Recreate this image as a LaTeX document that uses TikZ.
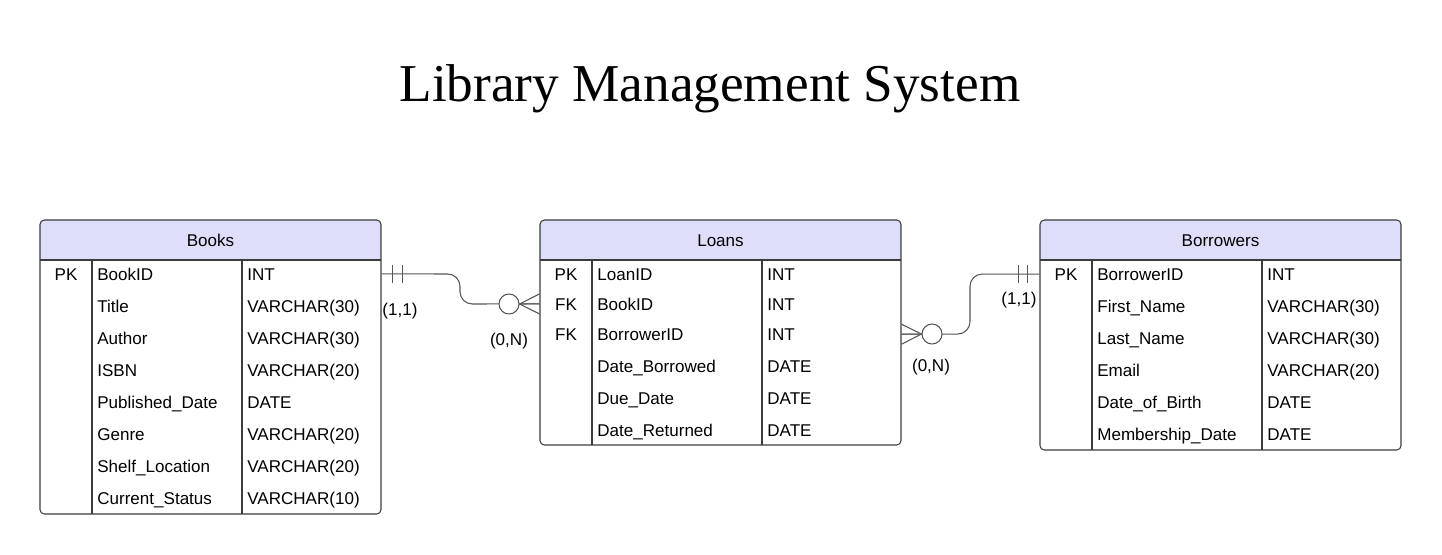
\documentclass[tikz,border=0pt]{standalone}
\usepackage{fontspec}
\setmainfont{Liberation Sans}
\newfontfamily\titlefont{Liberation Serif}
\usetikzlibrary{fit,calc}
\definecolor{headfill}{RGB}{222,222,250}
\definecolor{framegray}{RGB}{60,60,60}
\definecolor{linkgray}{RGB}{85,85,85}
\tikzset{
  tablebox/.style={draw=framegray, line width=0.6pt, rounded corners=2.5pt, inner sep=0pt},
  cell/.style={inner sep=0pt, font=\fontsize{9.7}{11}\selectfont},
  link/.style={draw=linkgray, line width=0.6pt},
  endcirc/.style={circle, draw=linkgray, fill=white, line width=0.6pt, minimum size=0.4cm, inner sep=0pt},
}
\begin{document}
\begin{tikzpicture}[x=0.02cm,y=-0.02cm]
\useasboundingbox (0,0) rectangle (1442,554);
\node[font=\titlefont\fontsize{30.3}{36}\selectfont, anchor=base] (title) at (710,101) {Library Management System};

% books
\begin{scope}
  \clip[rounded corners=2.5pt] (40,220) rectangle (381,514);
  \fill[headfill] (40,220) rectangle (381,260);
\end{scope}
\node[tablebox, fit={(40,220) (381,514)}] (books) {};
\draw[framegray, line width=0.6pt] (40,260) -- (381,260) (92,260) -- (92,514) (242,260) -- (242,514);
\node[cell, anchor=base] (books-head) at (210.5,246) {Books};
\foreach \k/\n/\t [count=\i] in {PK/BookID/INT, /Title/VARCHAR(30), /Author/VARCHAR(30),
  /ISBN/VARCHAR(20), /Published\_Date/DATE, /Genre/VARCHAR(20),
  /Shelf\_Location/VARCHAR(20), /Current\_Status/VARCHAR(10)}
{
  \pgfmathsetmacro\y{280+32*(\i-1)}
  \node[cell, anchor=base] (books-k\i) at (66,\y) {\k};
  \node[cell, anchor=base west] (books-n\i) at (97,\y) {\n};
  \node[cell, anchor=base west] (books-t\i) at (247,\y) {\t};
}

% loans
\begin{scope}
  \clip[rounded corners=2.5pt] (540,220) rectangle (901,445);
  \fill[headfill] (540,220) rectangle (901,260);
\end{scope}
\node[tablebox, fit={(540,220) (901,445)}] (loans) {};
\draw[framegray, line width=0.6pt] (540,260) -- (901,260) (592,260) -- (592,445) (762,260) -- (762,445);
\node[cell, anchor=base] (loans-head) at (720.5,246) {Loans};
\foreach \y/\k/\n/\t [count=\i] in {280/PK/LoanID/INT, 310/FK/BookID/INT, 340/FK/BorrowerID/INT,
  372//Date\_Borrowed/DATE, 404//Due\_Date/DATE, 436//Date\_Returned/DATE}
{
  \node[cell, anchor=base] (loans-k\i) at (566,\y) {\k};
  \node[cell, anchor=base west] (loans-n\i) at (597,\y) {\n};
  \node[cell, anchor=base west] (loans-t\i) at (767,\y) {\t};
}

% borrowers
\begin{scope}
  \clip[rounded corners=2.5pt] (1040,220) rectangle (1401,450);
  \fill[headfill] (1040,220) rectangle (1401,260);
\end{scope}
\node[tablebox, fit={(1040,220) (1401,450)}] (borrowers) {};
\draw[framegray, line width=0.6pt] (1040,260) -- (1401,260) (1092,260) -- (1092,450) (1262,260) -- (1262,450);
\node[cell, anchor=base] (borrowers-head) at (1220.5,246) {Borrowers};
\foreach \k/\n/\t [count=\i] in {PK/BorrowerID/INT, /First\_Name/VARCHAR(30), /Last\_Name/VARCHAR(30),
  /Email/VARCHAR(20), /Date\_of\_Birth/DATE, /Membership\_Date/DATE}
{
  \pgfmathsetmacro\y{280+32*(\i-1)}
  \node[cell, anchor=base] (borrowers-k\i) at (1066,\y) {\k};
  \node[cell, anchor=base west] (borrowers-n\i) at (1097,\y) {\n};
  \node[cell, anchor=base west] (borrowers-t\i) at (1267,\y) {\t};
}

% books -- loans
\draw[link, rounded corners=7pt] (books.east |- books-n1) -- (460,274) -- (460,304) -- (loans.west |- loans-n2);
\draw[link] (books.east |- books-n1) ++(11,-9) -- ++(0,18) ++(10,0) -- ++(0,-18);
\node[endcirc] (books-loans-o) at (509,304) {};
\draw[link] ($(loans.west |- loans-n2)+(0,-10)$) -- (books-loans-o.east) -- ($(loans.west |- loans-n2)+(0,10)$);
\draw[link] (books-loans-o.east) -- (loans.west |- loans-n2);
\node[cell] (books-one) at (400,311) {(1,1)};
\node[cell] (loans-many1) at (509,341) {(0,N)};

% loans -- borrowers
\draw[link, rounded corners=7pt] (loans.east |- loans-n3) -- (970,334) -- (970,274) -- (borrowers.west |- borrowers-n1);
\draw[link] (borrowers.west |- borrowers-n1) ++(-21,-9) -- ++(0,18) ++(9,0) -- ++(0,-18);
\node[endcirc] (loans-borrowers-o) at (932,334) {};
\draw[link] ($(loans.east |- loans-n3)+(0,-10)$) -- (loans-borrowers-o.west) -- ($(loans.east |- loans-n3)+(0,10)$);
\draw[link] (loans-borrowers-o.west) -- (loans.east |- loans-n3);
\node[cell] (borrowers-one) at (1019,300) {(1,1)};
\node[cell] (loans-many2) at (931,367) {(0,N)};
\end{tikzpicture}
\end{document}
